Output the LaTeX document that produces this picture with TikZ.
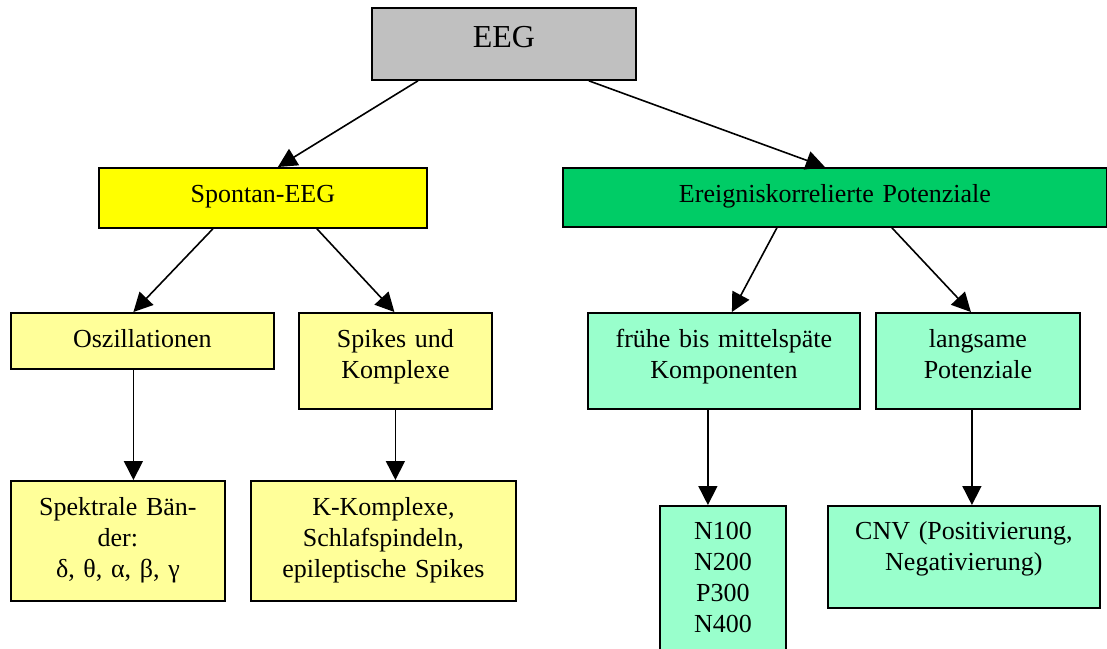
\documentclass[tikz,border=0pt]{standalone}
\usepackage{fontspec}
\setmainfont{Liberation Serif}
\usetikzlibrary{arrows.meta, positioning}
\definecolor{eeggray}{HTML}{C0C0C0}
\definecolor{sponyellow}{HTML}{FFFF00}
\definecolor{erpgreen}{HTML}{00CC66}
\definecolor{paleyellow}{HTML}{FFFF99}
\definecolor{paleaqua}{HTML}{99FFCC}

\begin{document}
\begin{tikzpicture}[
    x=1pt, y=-1pt,
    MN/.style args = {#1/#2}{
                    draw=black,% line color
                    fill=#1,
                    line width=1.8pt,
                    text width=#2, inner sep=0pt,
                    anchor=north west,
                    font=\fontsize{26}{31}\selectfont,
                    align=center},
    line/.style = {line width=1.6pt,
                    draw=black,
                    -{Triangle[length=19pt,width=19pt]}}]
%---
\useasboundingbox (0,0) rectangle (1107,648);
% top
\node (eeg)  [MN=eeggray/264pt, text height=40pt, text depth=32pt,
              font=\fontsize{32}{38}\selectfont]    at (371,7)   {EEG};
% second row
\node (spon) [MN=sponyellow/328pt, text height=35pt, text depth=25pt]  at (98,167)  {Spontan-EEG};
\node (erp)  [MN=erpgreen/544pt, text height=35pt, text depth=24pt]    at (562,167) {Ereigniskorrelierte Potenziale};
% third row
\node (osz)  [MN=paleyellow/263pt, text height=35pt, text depth=21pt]  at (10,312)  {Oszillationen};
\node (spk)  [MN=paleyellow/193pt, text height=35pt, text depth=61pt]  at (298,312) {Spikes und\\Komplexe};
\node (fru)  [MN=paleaqua/272pt, text height=35pt, text depth=61pt]    at (587,312) {frühe bis mittelspäte\\Komponenten};
\node (lang) [MN=paleaqua/204pt, text height=35pt, text depth=61pt]    at (875,312) {langsame\\Potenziale};
% bottom
\node (spe)  [MN=paleyellow/214pt, text height=35pt, text depth=85pt]  at (10,480)  {Spektrale Bän-\\der:\\δ, θ, α, β, γ};
\node (kk)   [MN=paleyellow/265pt, text height=35pt, text depth=85pt]  at (250,480) {K-Komplexe,\\Schlafspindeln,\\epileptische Spikes};
\node (npk)  [MN=paleaqua/126pt, text height=34pt, text depth=115pt]   at (659,505) {N100\\N200\\P300\\N400};
\node (cnv)  [MN=paleaqua/272pt, text height=34pt, text depth=68pt]    at (827,505) {CNV (Positivierung,\\Negativierung)};
% lines
\draw[line] ([xshift=47pt]eeg.south west)   -- ([xshift=15pt]spon.north);
\draw[line] ([xshift=-48pt]eeg.south east)  -- ([xshift=-10pt]erp.north);
\draw[line] ([xshift=-50pt]spon.south)      -- ([xshift=-9pt]osz.north);
\draw[line] ([xshift=54pt]spon.south)       -- ([xshift=-1pt]spk.north);
\draw[line] ([xshift=-58pt]erp.south)       -- ([xshift=8pt]fru.north);
\draw[line] ([xshift=57pt]erp.south)        -- ([xshift=-7pt]lang.north);
\draw[line] ([xshift=-9pt]osz.south)        -- ([xshift=-9pt]osz.south |- spe.north);
\draw[line] (spk.south)                     -- (spk.south |- kk.north);
\draw[line] ([xshift=-16pt]fru.south)       -- ([xshift=-16pt]fru.south |- npk.north);
\draw[line] ([xshift=-6pt]lang.south)       -- ([xshift=-6pt]lang.south |- cnv.north);
\end{tikzpicture}
\end{document}
